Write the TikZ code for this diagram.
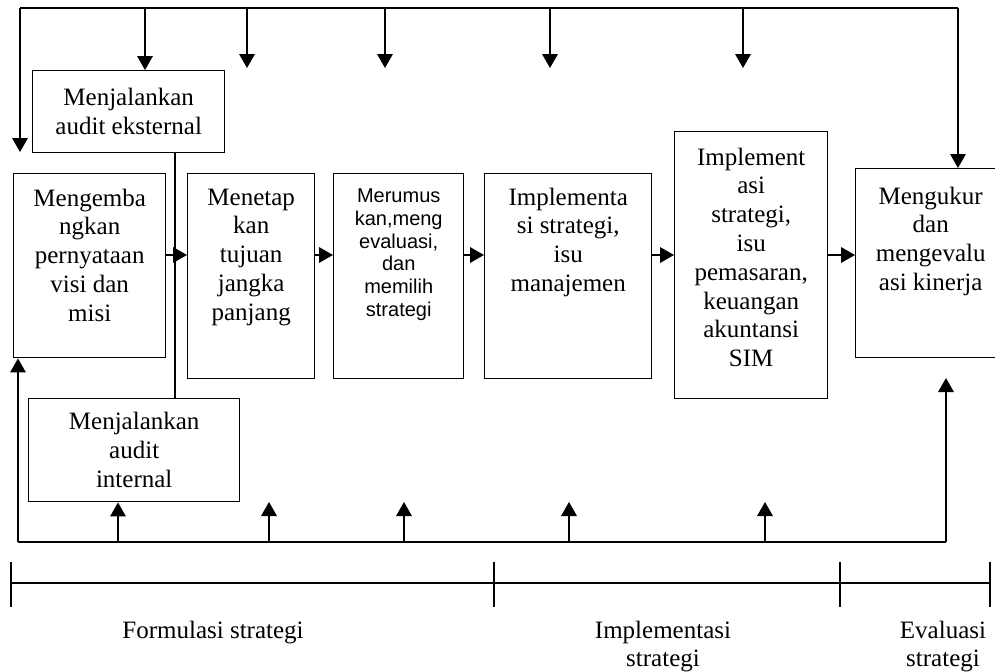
\documentclass[tikz,border=0pt]{standalone}
\usepackage{fontspec}
\setmainfont{Liberation Serif}
\newfontfamily\arialfont{Liberation Sans}
\usetikzlibrary{positioning,arrows.meta}

\begin{document}
\begin{tikzpicture}[x=0.5pt, y=-0.5pt, line width=0.7pt, every node/.style={font=\fontsize{12.5}{14.4}\selectfont}]
\tikzset{
  box/.style={draw, anchor=north west, inner sep=0pt, align=center},
  txt/.style={inner sep=0pt, align=center},
  arrow/.style={-{Triangle[length=7pt, width=7.8pt]}}
}
\useasboundingbox (0,0) rectangle (995,671);

% Boxes
\node[box, minimum width=76pt, minimum height=92pt] (visi) at (13,173) {};
\node[box, minimum width=63.5pt, minimum height=102.5pt] (tujuan) at (187,173) {};
\node[box, minimum width=65pt, minimum height=102.5pt] (rumus) at (333,173) {};
\node[box, minimum width=83.5pt, minimum height=102.5pt] (impl) at (484,173) {};
\node[box, minimum width=76.5pt, minimum height=133.5pt] (implf) at (674,131) {};
\node[box, minimum width=75pt, minimum height=94.5pt] (ukur) at (855,168) {};
\node[box, minimum width=96pt, minimum height=41pt] (ekst) at (32,70) {Menjalankan\\audit eksternal};
\node[box, minimum width=105.5pt, minimum height=51.5pt] (intr) at (28,398) {Menjalankan\\audit\\internal};

% Box texts
\node[txt, below=7.5pt of visi.north] (visit) {Mengemba\\ngkan\\pernyataan\\visi dan\\misi};
\node[txt, below=7.5pt of tujuan.north] (tujuant) {Menetap\\kan\\tujuan\\jangka\\panjang};
\node[txt, below=7.5pt of rumus.north, font=\arialfont\fontsize{10}{11.4}\selectfont] (rumust) {Merumus\\kan,meng\\evaluasi,\\dan\\memilih\\strategi};
\node[txt, below=7pt of impl.north] (implt) {Implementa\\si strategi,\\isu\\manajemen};
\node[txt, below=8pt of implf.north] (implft) {Implement\\asi\\strategi,\\isu\\pemasaran,\\keuangan\\akuntansi\\SIM};
\node[txt, below=9pt of ukur.north] (ukurt) {Mengukur\\dan\\mengevalu\\asi kinerja};

% Main flow
\coordinate (row) at (0,255);
\draw[arrow] (visi.east |- row) -- (tujuan.west |- row);
\draw[arrow] (tujuan.east |- row) -- (rumus.west |- row);
\draw[arrow] (rumus.east |- row) -- (impl.west |- row);
\draw[arrow] (impl.east |- row) -- (implf.west |- row);
\draw[arrow] (implf.east |- row) -- (ukur.west |- row);

% Audit link
\coordinate (audx) at (175,0);
\draw (audx |- ekst.south) -- (audx |- intr.north);

% Top feedback
\coordinate (tl) at (20,8);
\coordinate (tr) at (958,8);
\coordinate (tlend) at (20,152);
\coordinate (tekst) at (145,8);
\draw (tl) -- (tr);
\draw[arrow] (tl) -- (tlend);
\draw[arrow] (tekst) -- (tekst |- ekst.north);
\draw[arrow] (tr) -- (tr |- ukur.north);
\foreach \x [count=\i] in {247,385,550,743} {
  \coordinate (top\i) at (\x,8);
  \coordinate (topend\i) at (\x,68);
  \draw[arrow] (top\i) -- (topend\i);
}

% Bottom feedback
\coordinate (bl) at (18,542);
\coordinate (br) at (946,542);
\coordinate (brend) at (946,378);
\coordinate (bint) at (118,542);
\draw (bl) -- (br);
\draw[arrow] (bl) -- (bl |- visi.south);
\draw[arrow] (br) -- (brend);
\draw[arrow] (bint) -- (bint |- intr.south);
\foreach \x [count=\i] in {269,404,569,765} {
  \coordinate (bot\i) at (\x,542);
  \coordinate (botend\i) at (\x,502);
  \draw[arrow] (bot\i) -- (botend\i);
}

% Time line
\coordinate (p0) at (11,583);
\coordinate (p1) at (494,583);
\coordinate (p2) at (840,583);
\coordinate (p3) at (990,583);
\draw (p0) -- (p3);
\foreach \p in {p0,p1,p2,p3}
  \draw ([yshift=10.5pt]\p) -- ([yshift=-12pt]\p);

\node[txt, anchor=north] (formulasi) at (213,620) {Formulasi strategi};
\node[txt, anchor=north] (implementasi) at (663,620) {Implementasi\\strategi};
\node[txt, anchor=north] (evaluasi) at (943,620) {Evaluasi\\strategi};
\end{tikzpicture}
\end{document}
